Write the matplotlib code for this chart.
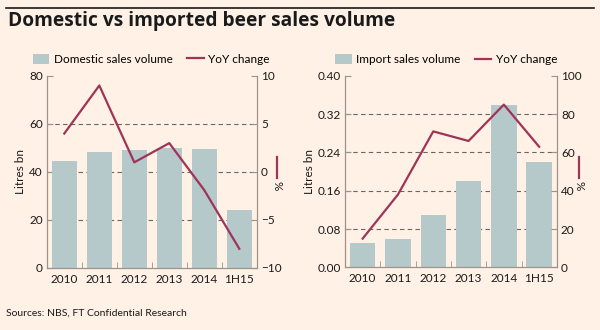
import numpy as np
import matplotlib.pyplot as plt
from matplotlib.patches import Patch
from matplotlib.lines import Line2D

years = ['2010', '2011', '2012', '2013', '2014', '1H15']
domestic_vol = [44.5, 48.5, 49.0, 50.0, 49.5, 24.3]
domestic_yoy = [4.0, 9.0, 1.0, 3.0, -1.9, -8.0]
import_vol = [0.05, 0.06, 0.11, 0.18, 0.34, 0.22]
import_yoy = [15, 38, 71, 66, 85, 63]

BG = '#fff1e5'
BAR = '#b5c9cb'
LINE = '#9e3456'
SPINE = '#9c948c'
TXT = '#1a1a1a'

plt.rcParams['font.family'] = ['Lato', 'DejaVu Sans']

W, H = 600, 330
fig = plt.figure(figsize=(6, 3.3), dpi=100, facecolor=BG)

# header rule and title
fig.add_artist(Line2D([0.01, 0.99], [0.975, 0.975], color='#1a1a1a', lw=1.2))
fig.text(0.013, 0.937, 'Domestic vs imported beer sales volume', fontsize=13.8,
         fontweight='bold', color=TXT, va='center', family=['Open Sans', 'DejaVu Sans'])
fig.text(0.01, 0.05, 'Sources: NBS, FT Confidential Research', fontsize=7.5,
         color=TXT, va='center')


def panel(rect, vols, yoy, vlim, vticks, vfmt, ylim, yticks, bar_label, key_x, leg_x):
    ax = fig.add_axes(rect)
    ax.set_facecolor(BG)
    x = np.arange(len(years))
    ax.bar(x, vols, width=0.72, color=BAR, zorder=2)
    ax.set_xlim(-0.5, len(years) - 0.5)
    ax.set_ylim(*vlim)
    ax.set_yticks(vticks)
    ax.set_yticklabels([vfmt.format(v) for v in vticks])
    ax.set_xticks(x)
    ax.set_xticklabels(years)
    ax.set_xticks(np.arange(0.5, len(years) - 1, 1), minor=True)
    ax.tick_params(axis='x', which='major', length=0, pad=4)
    ax.tick_params(axis='x', which='minor', direction='in', length=4, color=SPINE)
    ax.tick_params(axis='y', direction='in', length=4, color=SPINE, pad=3)
    ax.tick_params(labelsize=8.5, labelcolor=TXT)
    for v in vticks[1:-1]:
        ax.axhline(v, color='#6b6560', lw=0.8, ls=(0, (4, 3)), zorder=1)
    ax.spines['top'].set_visible(False)
    for s in ('left', 'right', 'bottom'):
        ax.spines[s].set_color(SPINE)
        ax.spines[s].set_linewidth(0.9)
    ax.set_ylabel('Litres bn', fontsize=8.5, color=TXT, labelpad=2)

    ax2 = ax.twinx()
    ax2.plot(x, yoy, color=LINE, lw=1.6, zorder=3)
    ax2.set_ylim(*ylim)
    ax2.set_yticks(yticks)
    ax2.tick_params(axis='y', direction='in', length=4, color=SPINE,
                    labelsize=8.5, labelcolor=TXT, pad=3)
    for s in ax2.spines.values():
        s.set_visible(False)

    # % unit with a short line key above it
    fig.add_artist(Line2D([key_x / W, key_x / W], [1 - 157 / H, 1 - 178 / H],
                          color=LINE, lw=1.6))
    fig.text(key_x / W, 1 - 186 / H, '%', fontsize=8.5, color=TXT,
             rotation=-90, ha='center', va='center')

    handles = [Patch(facecolor=BAR, edgecolor='none'),
               Line2D([0], [0], color=LINE, lw=1.6)]
    ax.legend(handles, [bar_label, 'YoY change'], loc='lower left',
              bbox_to_anchor=(leg_x, 1.02), ncol=2, frameon=False,
              fontsize=8.5, handlelength=1.4, handleheight=0.9,
              columnspacing=1.2, handletextpad=0.4, borderaxespad=0.2)
    return ax


panel([0.078, 0.188, 0.35, 0.582], domestic_vol, domestic_yoy,
      (0, 80), [0, 20, 40, 60, 80], '{:.0f}',
      (-10, 10), [-10, -5, 0, 5, 10], 'Domestic sales volume', 277, -0.1)
panel([0.575, 0.19, 0.353, 0.58], import_vol, import_yoy,
      (0, 0.40), [0, 0.08, 0.16, 0.24, 0.32, 0.40], '{:.2f}',
      (0, 100), [0, 20, 40, 60, 80, 100], 'Import sales volume', 579, -0.08)

plt.savefig('out.png', dpi=100, facecolor=BG)
